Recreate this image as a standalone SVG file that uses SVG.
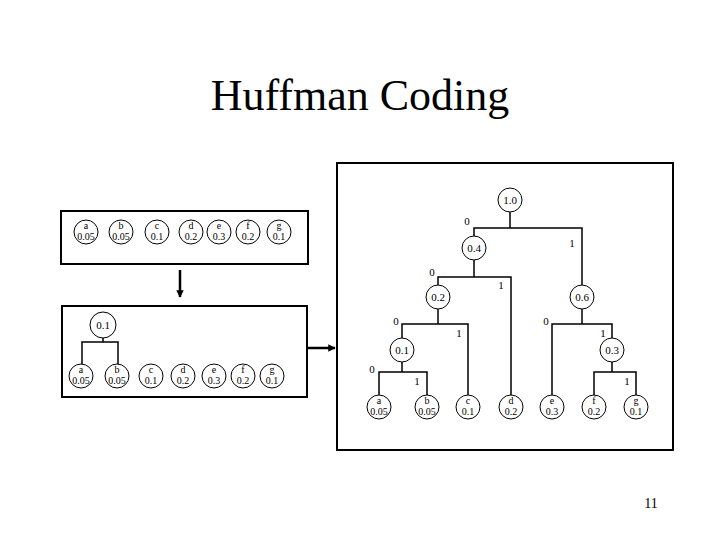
<svg xmlns="http://www.w3.org/2000/svg" width="720" height="540" viewBox="0 0 720 540">
<defs>
<style>
.box{fill:none;stroke:#000;stroke-width:2}
.n circle{fill:#fff;stroke:#000;stroke-width:1}
.t{font-family:"Liberation Serif","Times New Roman",serif;font-size:11px;fill:#000;text-anchor:middle}
.s{font-family:"Liberation Serif","Times New Roman",serif;font-size:10px;fill:#000;text-anchor:middle}
.lbl{font-family:"Liberation Serif","Times New Roman",serif;font-size:11px;fill:#000;text-anchor:middle}
.c{fill:none;stroke:#000;stroke-width:1.5}
.a{fill:none;stroke:#000;stroke-width:2.5}
</style>
<marker id="ah" viewBox="0 0 10 10" refX="9" refY="5" markerWidth="3" markerHeight="3" orient="auto">
<path d="M0,0 L10,5 L0,10 z" fill="#000"/>
</marker>
</defs>
<rect width="720" height="540" fill="#fff"/>
<text x="360" y="110" font-family="Liberation Serif,'Times New Roman',serif" font-size="44" text-anchor="middle">Huffman Coding</text>
<text x="651" y="508" font-family="Liberation Serif,'Times New Roman',serif" font-size="14" text-anchor="middle">11</text>

<g id="boxes">
<rect class="box" x="61" y="211" width="247" height="53"/>
<rect class="box" x="62" y="306" width="245" height="91"/>
<rect class="box" x="337" y="163" width="336" height="287"/>
</g>

<g id="connectors">
<line class="a" x1="180" y1="270" x2="180" y2="297" marker-end="url(#ah)"/>
<line class="a" x1="307" y1="348" x2="335" y2="348" marker-end="url(#ah)"/>
<path class="c" d="M103,338 V342 M82,364 V342 H118 V364"/>
<path class="c" d="M510,212 V228 M474,236 V228 H582 V285"/>
<path class="c" d="M474,260 V277 M438,285 V277 H511 V395"/>
<path class="c" d="M438,309 V324 M402,338 V324 H468 V395"/>
<path class="c" d="M402,362 V372 M379,395 V372 H427 V395"/>
<path class="c" d="M582,309 V324 M552,395 V324 H612 V338"/>
<path class="c" d="M612,362 V372 M594,395 V372 H636 V395"/>
<text class="lbl" x="467" y="225">0</text>
<text class="lbl" x="572" y="247">1</text>
<text class="lbl" x="432" y="276">0</text>
<text class="lbl" x="501" y="289">1</text>
<text class="lbl" x="396" y="325">0</text>
<text class="lbl" x="459" y="337">1</text>
<text class="lbl" x="372" y="373">0</text>
<text class="lbl" x="417" y="385">1</text>
<text class="lbl" x="546" y="325">0</text>
<text class="lbl" x="603" y="337">1</text>
<text class="lbl" x="627" y="385">1</text>
</g>

<g id="top-row">
<g id="t-a" class="n"><circle cx="86" cy="232" r="12"/><text class="s" x="86" y="229">a</text><text class="s" x="86" y="240">0.05</text></g>
<g id="t-b" class="n"><circle cx="121" cy="232" r="12"/><text class="s" x="121" y="229">b</text><text class="s" x="121" y="240">0.05</text></g>
<g id="t-c" class="n"><circle cx="157" cy="232" r="12"/><text class="s" x="157" y="229">c</text><text class="s" x="157" y="240">0.1</text></g>
<g id="t-d" class="n"><circle cx="191" cy="232" r="12"/><text class="s" x="191" y="229">d</text><text class="s" x="191" y="240">0.2</text></g>
<g id="t-e" class="n"><circle cx="219" cy="232" r="12"/><text class="s" x="219" y="229">e</text><text class="s" x="219" y="240">0.3</text></g>
<g id="t-f" class="n"><circle cx="248" cy="232" r="12"/><text class="s" x="248" y="229">f</text><text class="s" x="248" y="240">0.2</text></g>
<g id="t-g" class="n"><circle cx="279" cy="232" r="12"/><text class="s" x="279" y="229">g</text><text class="s" x="279" y="240">0.1</text></g>
</g>

<g id="mid-row">
<g id="m-ab" class="n"><circle cx="103" cy="325" r="13"/><text class="t" x="103" y="329">0.1</text></g>
<g id="m-a" class="n"><circle cx="81" cy="376" r="12"/><text class="s" x="81" y="373">a</text><text class="s" x="81" y="384">0.05</text></g>
<g id="m-b" class="n"><circle cx="117" cy="376" r="12"/><text class="s" x="117" y="373">b</text><text class="s" x="117" y="384">0.05</text></g>
<g id="m-c" class="n"><circle cx="151" cy="376" r="12"/><text class="s" x="151" y="373">c</text><text class="s" x="151" y="384">0.1</text></g>
<g id="m-d" class="n"><circle cx="183" cy="376" r="12"/><text class="s" x="183" y="373">d</text><text class="s" x="183" y="384">0.2</text></g>
<g id="m-e" class="n"><circle cx="214" cy="376" r="12"/><text class="s" x="214" y="373">e</text><text class="s" x="214" y="384">0.3</text></g>
<g id="m-f" class="n"><circle cx="243" cy="376" r="12"/><text class="s" x="243" y="373">f</text><text class="s" x="243" y="384">0.2</text></g>
<g id="m-g" class="n"><circle cx="272" cy="376" r="12"/><text class="s" x="272" y="373">g</text><text class="s" x="272" y="384">0.1</text></g>
</g>

<g id="tree">
<g id="r-root" class="n"><circle cx="510" cy="200" r="12"/><text class="t" x="510" y="204">1.0</text></g>
<g id="r-04" class="n"><circle cx="474" cy="248" r="12"/><text class="t" x="474" y="252">0.4</text></g>
<g id="r-06" class="n"><circle cx="582" cy="297" r="12"/><text class="t" x="582" y="301">0.6</text></g>
<g id="r-02" class="n"><circle cx="438" cy="297" r="12"/><text class="t" x="438" y="301">0.2</text></g>
<g id="r-01" class="n"><circle cx="402" cy="350" r="12"/><text class="t" x="402" y="354">0.1</text></g>
<g id="r-03" class="n"><circle cx="612" cy="350" r="12"/><text class="t" x="612" y="354">0.3</text></g>
<g id="r-a" class="n"><circle cx="379" cy="407" r="12"/><text class="s" x="379" y="404">a</text><text class="s" x="379" y="415">0.05</text></g>
<g id="r-b" class="n"><circle cx="427" cy="407" r="12"/><text class="s" x="427" y="404">b</text><text class="s" x="427" y="415">0.05</text></g>
<g id="r-c" class="n"><circle cx="468" cy="407" r="12"/><text class="s" x="468" y="404">c</text><text class="s" x="468" y="415">0.1</text></g>
<g id="r-d" class="n"><circle cx="511" cy="407" r="12"/><text class="s" x="511" y="404">d</text><text class="s" x="511" y="415">0.2</text></g>
<g id="r-e" class="n"><circle cx="552" cy="407" r="12"/><text class="s" x="552" y="404">e</text><text class="s" x="552" y="415">0.3</text></g>
<g id="r-f" class="n"><circle cx="594" cy="407" r="12"/><text class="s" x="594" y="404">f</text><text class="s" x="594" y="415">0.2</text></g>
<g id="r-g" class="n"><circle cx="636" cy="407" r="12"/><text class="s" x="636" y="404">g</text><text class="s" x="636" y="415">0.1</text></g>
</g>
</svg>
